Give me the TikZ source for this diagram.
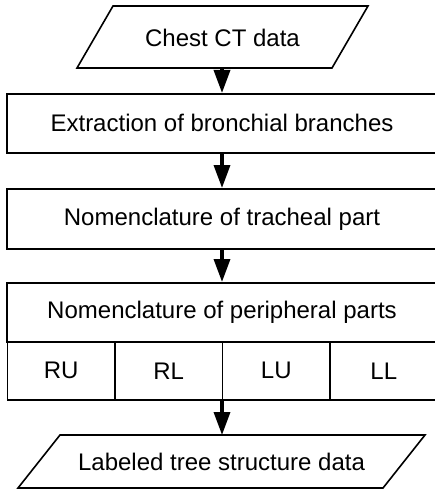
\documentclass[tikz,border=0pt]{standalone}
\usepackage{fontspec}
\setmainfont{Liberation Sans}
\usetikzlibrary{arrows.meta}
\begin{document}
\begin{tikzpicture}[x=1pt,y=-1pt,
  every node/.style={font=\fontsize{24}{28}\selectfont, inner sep=0pt},
  box/.style={draw, line width=1.6pt, minimum width=430pt, anchor=north},
  shape line/.style={draw, line width=1.6pt},
  flow/.style={line width=3.5pt, -{Triangle[width=16pt,length=23pt]}}]
\useasboundingbox (0,0) rectangle (434,489);
% top parallelogram
\draw[shape line] (113,6) -- (368,6) -- (332,68) -- (77,68) -- cycle;
\node (in) at (222.5,38) {Chest CT data};
\coordinate (inb) at (222,68);
% boxes
\node[box, minimum height=59pt] (b1) at (222,93) {Extraction of bronchial branches};
\node[box, minimum height=60pt] (b2) at (222,188) {Nomenclature of tracheal part};
\node[box, minimum height=59pt] (b3) at (222,282) {Nomenclature of peripheral parts};
\node[box, minimum height=58pt, minimum width=107.5pt] (ru) at (61.25,341) {RU};
\node[box, minimum height=58pt, minimum width=107.5pt] (rl) at (168.75,341) {RL};
\node[box, minimum height=58pt, minimum width=107.5pt] (lu) at (276.25,341) {LU};
\node[box, minimum height=58pt, minimum width=107.5pt] (ll) at (383.75,341) {LL};
\coordinate (rowb) at (222,399);
% bottom parallelogram
\draw[shape line] (60,435) -- (425,435) -- (383,488) -- (18,488) -- cycle;
\node (out) at (221.5,462) {Labeled tree structure data};
\coordinate (outt) at (222,435);
% arrows
\draw[flow] (inb) -- (b1.north);
\draw[flow] (b1.south) -- (b2.north);
\draw[flow] (b2.south) -- (b3.north);
\draw[flow] (rowb) -- (outt);
\end{tikzpicture}
\end{document}
